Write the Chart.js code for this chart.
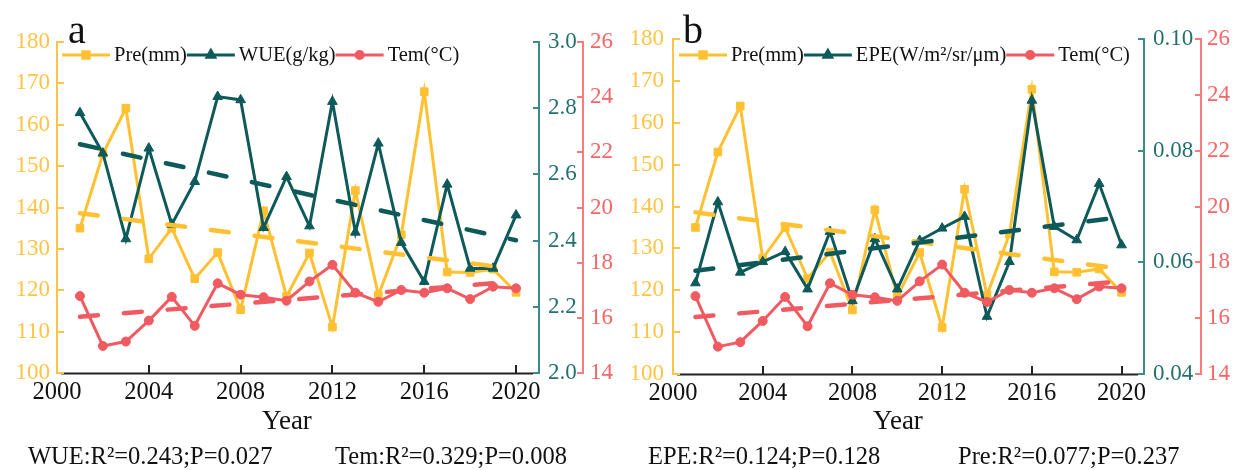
<!DOCTYPE html>
<html>
<head>
<meta charset="utf-8">
<script src="https://cdn.jsdelivr.net/npm/chart.js@4/dist/chart.umd.min.js"></script>
<style>
  html, body { margin: 0; padding: 0; background: #fff; }
  #page { position: relative; width: 1234px; height: 470px; overflow: hidden; background: #fff; }
  canvas { position: absolute; top: 0; }
  .t { position: absolute; font-family: "Liberation Serif", "Times New Roman", serif; color: #111; line-height: 1; white-space: nowrap; }
  .panel { font-size: 40px; top: 9.5px; }
  .year { font-size: 27px; top: 407px; width: 200px; text-align: center; }
  .stat { font-size: 24.5px; top: 444px; }
</style>
</head>
<body>
<div id="page">
  <canvas id="chartA" width="617" height="470" style="left:0"></canvas>
  <canvas id="chartB" width="617" height="470" style="left:617px"></canvas>
  <div class="t panel" style="left:68px">a</div>
  <div class="t panel" style="left:683px">b</div>
  <div class="t year" style="left:187px">Year</div>
  <div class="t year" style="left:798px">Year</div>
  <div class="t stat" style="left:28px">WUE:R²=0.243;P=0.027</div>
  <div class="t stat" style="left:335px">Tem:R²=0.329;P=0.008</div>
  <div class="t stat" style="left:648px">EPE:R²=0.124;P=0.128</div>
  <div class="t stat" style="left:958px">Pre:R²=0.077;P=0.237</div>
</div>
<script>
// ---- data ----
const years = [2001, 2002, 2003, 2004, 2005, 2006, 2007, 2008, 2009, 2010,
               2011, 2012, 2013, 2014, 2015, 2016, 2017, 2018, 2019, 2020];
const pre = [135.0, 153.0, 164.0, 127.6, 135.0, 122.8, 129.1, 115.3, 139.2, 118.5,
             129.0, 111.1, 144.1, 118.8, 133.4, 168.0, 124.4, 124.3, 125.1, 119.5];
const wue = [2.786, 2.664, 2.405, 2.679, 2.449, 2.578, 2.835, 2.825, 2.439, 2.593,
             2.444, 2.820, 2.425, 2.694, 2.394, 2.276, 2.570, 2.316, 2.316, 2.477];
const epe = [0.0563, 0.0708, 0.0582, 0.0601, 0.0619, 0.0552, 0.0655, 0.0531, 0.0642, 0.0552,
             0.0639, 0.0661, 0.0682, 0.0503, 0.0601, 0.0890, 0.0664, 0.0640, 0.0741, 0.0631];
const tem = [16.79, 14.98, 15.14, 15.90, 16.76, 15.71, 17.25, 16.84, 16.75, 16.62,
             17.32, 17.92, 16.91, 16.58, 17.01, 16.91, 17.07, 16.68, 17.13, 17.07];

// fitted trend lines (start / end of the fitted period)
const trendYears = [2001, 2020];
const preTrend = [138.6, 125.1];
const wueTrend = [2.691, 2.401];
const epeTrend = [0.0585, 0.0681];
const temTrend = [16.04, 17.32];

// axis ticks
const yearTicks = [2000, 2004, 2008, 2012, 2016, 2020];
const preTicks = [100, 110, 120, 130, 140, 150, 160, 170, 180];
const wueTicks = [2.0, 2.2, 2.4, 2.6, 2.8, 3.0];
const epeTicks = [0.04, 0.06, 0.08, 0.10];
const temTicks = [14, 16, 18, 20, 22, 24, 26];

// ---- styling ----
const FONT = "'Liberation Serif', serif";
Chart.defaults.font.family = FONT;
const ORANGE = '#FFC132';
const TEAL = '#0E5A5A';
const RED = '#F05A61';
const ORANGE_AXIS = '#FFC445';
const TEAL_AXIS = '#3C8A8A';
const TEAL_LABEL = '#23706F';
const RED_AXIS = '#F77C7C';
const RED_LABEL = '#F46668';

const pts = (xs, ys) => xs.map((x, i) => ({ x: x, y: ys[i] }));

// legend: line sample with its marker, followed by the label
const lineKey = {
  id: 'lineKey',
  afterDraw(chart, args, opts) {
    const ctx = chart.ctx;
    let x = opts.x;
    const y = opts.y;
    ctx.save();
    ctx.font = opts.font;
    ctx.textBaseline = 'middle';
    ctx.textAlign = 'left';
    chart.data.datasets.forEach(ds => {
      if (!ds.keyEntry) return;
      ctx.strokeStyle = ds.borderColor;
      ctx.fillStyle = ds.borderColor;
      ctx.lineWidth = 3;
      ctx.beginPath();
      ctx.moveTo(x, y);
      ctx.lineTo(x + opts.lineLen, y);
      ctx.stroke();
      Chart.helpers.drawPoint(ctx, { pointStyle: ds.pointStyle, radius: ds.keyRadius, borderWidth: 1, rotation: 0 },
        x + opts.lineLen / 2, y);
      ctx.fillStyle = '#111';
      const tx = x + opts.lineLen + opts.gap;
      ctx.fillText(ds.label, tx, y + 1);
      x = tx + ctx.measureText(ds.label).width;
    });
    ctx.restore();
  }
};

// inward tick marks and the bottom axis line
const axisMarks = {
  id: 'axisMarks',
  afterDraw(chart, args, opts) {
    const ctx = chart.ctx;
    const ca = chart.chartArea;
    ctx.save();
    ctx.lineWidth = 2;
    ctx.lineCap = 'butt';
    ctx.strokeStyle = '#222';
    ctx.beginPath();
    ctx.moveTo(ca.left + 4, Math.round(ca.bottom) + 0.5);
    ctx.lineTo(ca.right - 6, Math.round(ca.bottom) + 0.5);
    ctx.stroke();
    Object.entries(opts.axes).forEach(([id, m]) => {
      const s = chart.scales[id];
      ctx.strokeStyle = m.color;
      ctx.beginPath();
      s.ticks.forEach(t => {
        const p = Math.round(s.getPixelForValue(t.value));
        if (s.isHorizontal()) {
          if (p < ca.left + 3) return;
          ctx.moveTo(p, ca.bottom);
          ctx.lineTo(p, ca.bottom - m.len);
        } else if (s.position === 'left') {
          ctx.moveTo(s.right, p);
          ctx.lineTo(s.right + m.len, p);
        } else {
          ctx.moveTo(s.left, p);
          ctx.lineTo(s.left - m.len, p);
        }
      });
      ctx.stroke();
    });
    ctx.restore();
  }
};

function setTicks(list) {
  return s => { s.ticks = list.map(v => ({ value: v })); };
}
function fixWidth(w) { return s => { s.width = w; }; }
function fixHeight(h) { return s => { s.height = h; }; }

function makePanel(canvasId, p) {
  const datasets = [
    { label: 'Pre(mm)', data: pts(years, pre), yAxisID: 'yP', borderColor: ORANGE, backgroundColor: ORANGE,
      borderWidth: 3, pointStyle: 'rect', pointRadius: 5.4, pointBorderWidth: 1, order: 6,
      keyEntry: true, keyRadius: 4.6 },
    { label: p.midLabel, data: pts(years, p.mid), yAxisID: 'yM', borderColor: TEAL, backgroundColor: TEAL,
      borderWidth: 3, pointStyle: 'triangle', pointRadius: 5.6, pointBorderWidth: 1, order: 5,
      keyEntry: true, keyRadius: 4.4 },
    { label: 'Tem(°C)', data: pts(years, tem), yAxisID: 'yT', borderColor: RED, backgroundColor: RED,
      borderWidth: 3, pointStyle: 'circle', pointRadius: 4.5, pointBorderWidth: 1, order: 4,
      keyEntry: true, keyRadius: 3.6 },
    { label: 'Pre trend', data: pts(trendYears, preTrend), yAxisID: 'yP', borderColor: ORANGE,
      borderWidth: 4.5, borderDash: [18, 26], borderCapStyle: 'round', pointRadius: 0, order: 3 },
    { label: p.midLabel + ' trend', data: pts(trendYears, p.midTrend), yAxisID: 'yM', borderColor: TEAL,
      borderWidth: 4.5, borderDash: [18, 26], borderCapStyle: 'round', pointRadius: 0, order: 2 },
    { label: 'Tem trend', data: pts(trendYears, temTrend), yAxisID: 'yT', borderColor: RED,
      borderWidth: 4.5, borderDash: [18, 26], borderCapStyle: 'round', pointRadius: 0, order: 1 }
  ];

  const tickFont = size => ({ family: FONT, size: size });

  return new Chart(document.getElementById(canvasId), {
    type: 'line',
    data: { datasets: datasets },
    plugins: [axisMarks, lineKey],
    options: {
      responsive: false,
      animation: false,
      devicePixelRatio: 1,
      layout: { padding: { top: p.top, left: 0, right: 0, bottom: 0 } },
      plugins: {
        legend: { display: false },
        tooltip: { enabled: false },
        lineKey: { x: 62, y: 55, lineLen: 48, gap: 4, font: '20.5px ' + FONT },
        axisMarks: {
          axes: {
            x: { color: '#222', len: 8 },
            yP: { color: ORANGE_AXIS, len: 7 },
            yM: { color: TEAL_AXIS, len: 6 },
            yT: { color: RED_AXIS, len: 6 }
          }
        }
      },
      scales: {
        x: {
          type: 'linear', position: 'bottom', min: 2000, max: 2021,
          afterBuildTicks: setTicks(yearTicks),
          afterFit: fixHeight(470 - p.bottom),
          grid: { display: false, drawTicks: false },
          border: { display: false },
          ticks: { color: '#111', font: tickFont(24.5), padding: 5, maxRotation: 0,
                   callback: v => String(v) }
        },
        yP: {
          type: 'linear', position: 'left', min: 100, max: 180,
          afterBuildTicks: setTicks(preTicks),
          afterFit: fixWidth(p.leftW),
          grid: { display: false, drawTicks: false },
          border: { display: true, color: ORANGE_AXIS, width: 2 },
          ticks: { color: ORANGE_AXIS, font: tickFont(23), padding: p.leftPad,
                   callback: v => String(v) }
        },
        yM: {
          type: 'linear', position: 'right', min: p.midMin, max: p.midMax,
          afterBuildTicks: setTicks(p.midTicks),
          afterFit: fixWidth(p.midW),
          grid: { display: false, drawTicks: false },
          border: { display: true, color: TEAL_AXIS, width: 2 },
          ticks: { color: TEAL_LABEL, font: tickFont(23), padding: 9,
                   callback: v => v.toFixed(p.midDigits) }
        },
        yT: {
          type: 'linear', position: 'right', min: 14, max: 26,
          afterBuildTicks: setTicks(temTicks),
          afterFit: fixWidth(p.temW),
          grid: { display: false, drawTicks: false },
          border: { display: true, color: RED_AXIS, width: 2 },
          ticks: { color: RED_LABEL, font: tickFont(23), padding: p.temPad,
                   callback: v => String(v) }
        }
      }
    }
  });
}

makePanel('chartA', {
  midLabel: 'WUE(g/kg)', mid: wue, midTrend: wueTrend, midTicks: wueTicks,
  midMin: 2.0, midMax: 3.0, midDigits: 1,
  top: 42, bottom: 373, leftW: 57, midW: 44, temW: 34, leftPad: 7, temPad: 7
});
makePanel('chartB', {
  midLabel: 'EPE(W/m²/sr/μm)', mid: epe, midTrend: epeTrend, midTicks: epeTicks,
  midMin: 0.04, midMax: 0.10, midDigits: 2,
  top: 39, bottom: 374, leftW: 56, midW: 57, temW: 33, leftPad: 9, temPad: 6
});
</script>
</body>
</html>
